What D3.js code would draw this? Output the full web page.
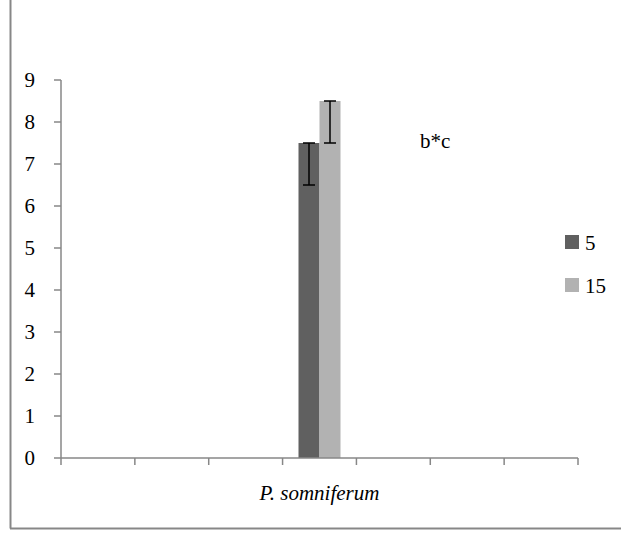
<!DOCTYPE html>
<html>
<head>
<meta charset="utf-8">
<script src="https://cdn.jsdelivr.net/npm/d3@7"></script>
<style>
  svg text { font-family: 'Liberation Serif', 'Times New Roman', serif !important; }
</style>
</head>
<body style="margin:0">
<svg width="621" height="534" font-family="Liberation Serif, serif"></svg>
<script>
// data
var categories = ["", "", "", "P. somniferum", "", "", ""];
var seriesNames = ["5", "15"];
var seriesColors = ["#606060", "#b2b2b2"];
var values5 = [null, null, null, 7.5, null, null, null];
var values15 = [null, null, null, 8.5, null, null, null];
var errMinus5 = [0, 0, 0, 1, 0, 0, 0];
var errMinus15 = [0, 0, 0, 1, 0, 0, 0];
var yTicks = [0, 1, 2, 3, 4, 5, 6, 7, 8, 9];
var note = "b*c";

var svg = d3.select("svg");
var axisColor = "#878787";

function label(sel) {
  return sel.attr("font-size", 21)
    .attr("font-family", "Liberation Serif, serif")
    .style("font-family", "'Liberation Serif', serif")
    .attr("fill", "#000");
}

// outer frame (only left and bottom edges show)
svg.append("line").attr("x1", 10.5).attr("x2", 10.5).attr("y1", 0).attr("y2", 528.5)
  .attr("stroke", axisColor).attr("stroke-width", 2);
svg.append("line").attr("x1", 10).attr("x2", 621).attr("y1", 528.5).attr("y2", 528.5)
  .attr("stroke", axisColor).attr("stroke-width", 2);

var x = d3.scaleBand().domain(d3.range(categories.length)).range([61, 578]);
var y = d3.scaleLinear().domain([0, 9]).range([458, 80]);

// two bars side by side in the middle of the band
var barW = 21;
var xs = d3.scaleBand().domain(seriesNames).range([0, barW * 2]);

var series = [
  { name: "5", vals: values5, err: errMinus5, color: seriesColors[0] },
  { name: "15", vals: values15, err: errMinus15, color: seriesColors[1] }
];

series.forEach(function(s) {
  var pts = s.vals.map(function(v, i) { return { i: i, v: v, e: s.err[i] }; })
    .filter(function(d) { return d.v != null; });
  var g = svg.append("g");
  g.selectAll("rect").data(pts).enter().append("rect")
    .attr("x", function(d) { return x(d.i) + x.bandwidth() / 2 - barW + xs(s.name); })
    .attr("width", xs.bandwidth())
    .attr("y", function(d) { return y(d.v); })
    .attr("height", function(d) { return y(0) - y(d.v); })
    .attr("fill", s.color);

  // error bars, minus direction only
  var eb = g.selectAll("g.err").data(pts).enter().append("g").attr("class", "err")
    .attr("transform", function(d) {
      return "translate(" + (x(d.i) + x.bandwidth() / 2 - barW + xs(s.name) + xs.bandwidth() / 2) + ",0)";
    });
  eb.append("line").attr("x1", 0).attr("x2", 0)
    .attr("y1", function(d) { return y(d.v); })
    .attr("y2", function(d) { return y(d.v - d.e); })
    .attr("stroke", "#000").attr("stroke-width", 1.5);
  [0, 1].forEach(function(k) {
    eb.append("line").attr("x1", -6).attr("x2", 6)
      .attr("y1", function(d) { return y(d.v - k * d.e); })
      .attr("y2", function(d) { return y(d.v - k * d.e); })
      .attr("stroke", "#000").attr("stroke-width", 1.5);
  });
});

// y axis
var yAxis = svg.append("g");
yAxis.append("line").attr("x1", 61).attr("x2", 61).attr("y1", y(9)).attr("y2", y(0))
  .attr("stroke", axisColor).attr("stroke-width", 1.5);
yAxis.selectAll("line.tk").data(yTicks).enter().append("line").attr("class", "tk")
  .attr("x1", 54).attr("x2", 61)
  .attr("y1", function(d) { return y(d); }).attr("y2", function(d) { return y(d); })
  .attr("stroke", axisColor).attr("stroke-width", 1.5);
label(yAxis.selectAll("text").data(yTicks).enter().append("text")
  .attr("x", 35).attr("y", function(d) { return y(d); })
  .attr("dy", "0.34em")
  .attr("text-anchor", "end")
  .text(function(d) { return d; }));

// x axis: ticks sit on the band edges
var edges = d3.range(categories.length + 1).map(function(i) {
  return i < categories.length ? x(i) : x(categories.length - 1) + x.bandwidth();
});
var xAxisG = svg.append("g");
xAxisG.append("line").attr("x1", 61).attr("x2", 578).attr("y1", 458).attr("y2", 458)
  .attr("stroke", axisColor).attr("stroke-width", 1.5);
xAxisG.selectAll("line.tk").data(edges).enter().append("line").attr("class", "tk")
  .attr("x1", function(d) { return d; }).attr("x2", function(d) { return d; })
  .attr("y1", 458).attr("y2", 465)
  .attr("stroke", axisColor).attr("stroke-width", 1.5);
label(xAxisG.selectAll("text").data(categories.map(function(c, i) { return { c: c, i: i }; })
    .filter(function(d) { return d.c !== ""; }))
  .enter().append("text")
  .attr("x", function(d) { return x(d.i) + x.bandwidth() / 2; })
  .attr("y", 500)
  .attr("text-anchor", "middle")
  .attr("font-style", "italic")
  .text(function(d) { return d.c; }));

// annotation
label(svg.append("text").attr("x", 420).attr("y", 148).text(note));

// legend
var legend = svg.append("g").selectAll("g").data(series).enter().append("g")
  .attr("transform", function(d, i) { return "translate(565," + (235 + i * 43) + ")"; });
legend.append("rect").attr("width", 14).attr("height", 14).attr("fill", function(d) { return d.color; });
label(legend.append("text").attr("x", 20).attr("y", 15).text(function(d) { return d.name; }));
</script>
</body>
</html>
